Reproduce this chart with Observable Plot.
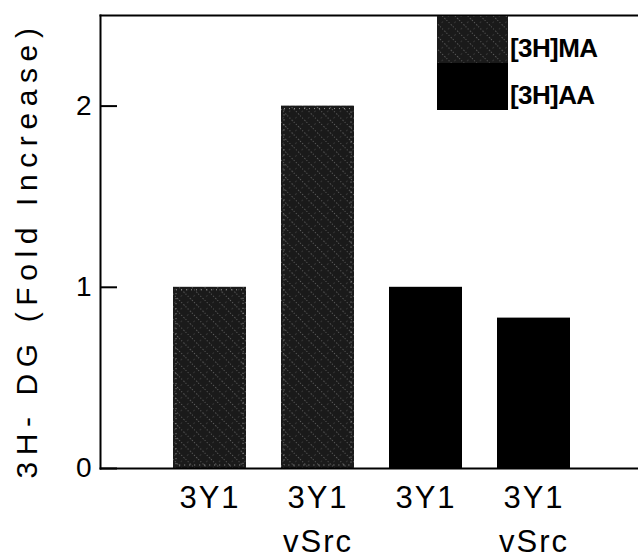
<!DOCTYPE html>
<html><head><meta charset="utf-8">
<script src="https://cdn.jsdelivr.net/npm/d3@7"></script>
<script src="https://cdn.jsdelivr.net/npm/@observablehq/plot@0.6"></script>
<style>
body{margin:0;background:#fff}
#chart svg{display:block}
</style>
</head><body><div id="chart"></div>
<script>
// ---- data ----
const cellLines = ["3Y1", "3Y1\nvSrc", "3Y1", "3Y1\nvSrc"];
const labels = ["[3H]MA", "[3H]MA", "[3H]AA", "[3H]AA"];
const values = [1.0, 2.0, 1.0, 0.83];
const yTicks = [0, 1, 2];
const seriesNames = ["[3H]MA", "[3H]AA"];
const seriesFills = ["url(#maPattern)", "#000"];
const yLabel = "3H- DG (Fold Increase)";

const data = values.map((v, i) => ({i, cell: cellLines[i], label: labels[i], value: v}));
const fillOf = l => seriesFills[seriesNames.indexOf(l)];
const font = "'Liberation Sans', Arial, Helvetica, sans-serif";

const plot = Plot.plot({
  width: 638, height: 558,
  marginLeft: 100, marginRight: 0, marginTop: 15, marginBottom: 90,
  style: {fontFamily: font, background: "#fff", color: "#000"},
  x: {domain: d3.range(values.length), paddingInner: 0.32, paddingOuter: 0.65, align: 0.52},
  y: {domain: [0, 2.5]},
  color: {type: "identity"},
  marks: [
    Plot.barY(data, {x: "i", y: "value", fill: d => fillOf(d.label)}),
    Plot.barY(data.filter(d => d.label === seriesNames[0]), {x: "i", y: "value", fill: "none", stroke: "#fff", strokeOpacity: 0.55, strokeDasharray: "1 4", inset: 3}),
    Plot.frame({anchor: "left", strokeWidth: 2}),
    Plot.frame({anchor: "top", strokeWidth: 2}),
    Plot.frame({anchor: "bottom", strokeWidth: 2}),
    Plot.axisY({ticks: yTicks, tickSize: -17, text: null, strokeWidth: 2, label: null}),
    Plot.axisY({ticks: yTicks, tickSize: 0, tickPadding: 9, tickFormat: "d", fontSize: 28, label: null}),
    Plot.text([yLabel], {frameAnchor: "left", textAnchor: "middle", rotate: -90, dx: -73, dy: 8, fontSize: 30, text: d => d}),
    Plot.axisX({tickSize: 0, tickPadding: 8, tickFormat: i => cellLines[i], fontSize: 31, lineHeight: 1.42, label: null})
  ]
});

const svg = d3.select(plot);
// pattern for [3H]MA bars
const defs = svg.insert("defs", ":first-child");
const pat = defs.append("pattern").attr("id", "maPattern").attr("patternUnits", "userSpaceOnUse")
  .attr("width", 9).attr("height", 9).attr("patternTransform", "rotate(45)");
pat.append("rect").attr("width", 9).attr("height", 9).attr("fill", "#1a1a1a");
pat.append("line").attr("x1", 0).attr("y1", 4.5).attr("x2", 9).attr("y2", 4.5)
  .attr("stroke", "#fff").attr("stroke-opacity", 0.3).attr("stroke-width", 1).attr("stroke-dasharray", "1 2");
pat.append("line").attr("x1", 4.5).attr("y1", 0).attr("x2", 4.5).attr("y2", 9)
  .attr("stroke", "#fff").attr("stroke-opacity", 0.12).attr("stroke-width", 1).attr("stroke-dasharray", "1 3");

// letter spacing for text
svg.selectAll("text").each(function() {
  const t = d3.select(this);
  if (t.text() === yLabel) t.attr("letter-spacing", "6.6px");
});
svg.selectAll("g[aria-label='x-axis tick label'] text").attr("letter-spacing", "2px");

// legend (inside plot, top right)
const lg = svg.append("g").attr("aria-label", "legend");
const lx = 437, ly = 16, lw = 71, lh = 47;
seriesNames.forEach((name, k) => {
  lg.append("rect").attr("x", lx).attr("y", ly + k * lh).attr("width", lw).attr("height", lh)
    .attr("fill", seriesFills[k]);
});
seriesNames.forEach((name, k) => {
  lg.append("text").attr("x", lx + lw + 2).attr("y", ly + k * lh + 41)
    .attr("text-anchor", "start")
    .attr("font-family", font).attr("font-weight", "bold").attr("font-size", 26)
    .attr("letter-spacing", "-0.6px").text(name);
});

document.getElementById("chart").append(plot);
</script>
</body></html>
